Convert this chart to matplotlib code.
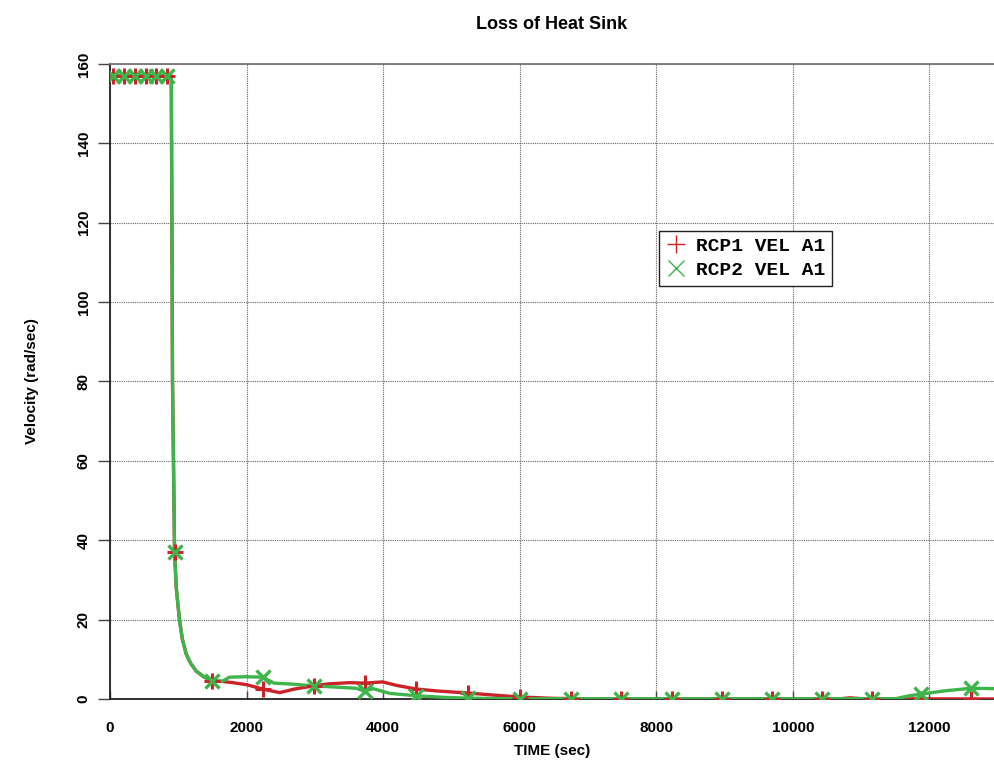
import matplotlib

matplotlib.use("Agg")
import matplotlib.pyplot as plt
from matplotlib.lines import Line2D

# curve samples (time in s, velocity in rad/s)
rcp1_time = [0, 897, 915, 945, 970, 1018, 1060, 1116, 1180, 1263, 1380, 1497, 1650, 1800,
             2000, 2234, 2483, 2700, 2981, 3200, 3500, 3730, 3993, 4200, 4487, 4800, 5240,
             5600, 6000, 6500, 7000, 10700, 10840, 11000, 12950]
rcp1_vel = [157, 157, 80, 37, 28, 19.7, 15, 11.3, 9, 7, 5.5, 4.6, 4.4, 4.1,
            3.6, 2.5, 1.6, 2.5, 3.3, 3.8, 4.1, 4.0, 4.3, 3.4, 2.5, 2.0, 1.5,
            1.0, 0.5, 0.15, 0.05, 0.05, 0.3, 0.05, 0.0]

rcp2_time = [0, 897, 915, 945, 970, 1018, 1060, 1116, 1180, 1263, 1380, 1497, 1650, 1750,
             2000, 2234, 2400, 2700, 2981, 3400, 3600, 3730, 3850, 4100, 4487, 4900, 5240,
             6000, 11500, 11700, 11876, 12200, 12608, 12950]
rcp2_vel = [157, 157, 80, 37, 28, 19.7, 15, 11.3, 9, 7, 5.5, 4.6, 4.5, 5.5,
            5.6, 5.5, 4.0, 3.7, 3.3, 2.9, 2.7, 2.0, 2.6, 1.4, 0.8, 0.4, 0.2,
            0.05, 0.05, 0.8, 1.2, 2.0, 2.7, 2.6]

# plot symbols
mark_time = [40, 200, 360, 520, 680, 830, 945, 1497, 2234, 2981, 3730, 4487, 5240,
             6000, 6745, 7480, 8226, 8960, 9693, 10425, 11152, 11876, 12608]
rcp1_mark = [157, 157, 157, 157, 157, 157, 37, 4.6, 2.5, 3.3, 4.0, 2.5, 1.5,
             0.6, 0.1, 0.05, 0.05, 0.05, 0.05, 0.05, 0.05, 0.05, 0.0]
rcp2_mark = [157, 157, 157, 157, 157, 157, 37, 4.6, 5.5, 3.3, 2.0, 0.8, 0.2,
             0.05, 0.05, 0.05, 0.05, 0.05, 0.05, 0.05, 0.05, 1.3, 2.7]

x_ticks = [0, 2000, 4000, 6000, 8000, 10000, 12000]
y_ticks = [0, 20, 40, 60, 80, 100, 120, 140, 160]

RED = "#cc2229"
GREEN = "#3db54a"
SANS = ["Liberation Sans Narrow", "Liberation Sans", "DejaVu Sans"]

plt.rcParams["font.family"] = SANS

fig = plt.figure(figsize=(9.94, 7.67), dpi=100)
ax = fig.add_axes([0.1107, 0.0887, 0.8893, 0.8279])

ax.plot(rcp1_time, rcp1_vel, color=RED, linewidth=2.4, zorder=3)
ax.plot(rcp2_time, rcp2_vel, color=GREEN, linewidth=2.4, zorder=4)
ax.plot(mark_time, rcp1_mark, linestyle="none", marker="+", color=RED,
        markersize=12, markeredgewidth=2.2, zorder=5)
ax.plot(mark_time, rcp2_mark, linestyle="none", marker="x", color=GREEN,
        markersize=10, markeredgewidth=2.4, zorder=6)

ax.set_xlim(0, 12945)
ax.set_ylim(0, 160)
ax.set_xticks(x_ticks)
ax.set_yticks(y_ticks)
ax.set_xticklabels([str(v) for v in x_ticks], fontsize=11, fontweight="bold")
ax.set_yticklabels([str(v) for v in y_ticks], fontsize=11, fontweight="bold",
                   rotation=90, va="center")
ax.tick_params(axis="x", direction="in", length=6, width=1, color="#444444", pad=16)
ax.tick_params(axis="y", direction="out", length=9, width=1, color="#444444", pad=5)
ax.grid(True, color="#666666", linestyle=(0, (1, 1)), linewidth=0.8, zorder=0)

for side in ("left", "bottom"):
    ax.spines[side].set_color("#222222")
    ax.spines[side].set_linewidth(1.3)
ax.spines["top"].set_color("#777777")
ax.spines["top"].set_linewidth(1.3)
ax.spines["right"].set_visible(False)

ax.set_title("Loss of Heat Sink", fontsize=13, fontweight="bold", pad=25)
ax.set_xlabel("TIME (sec)", fontsize=11, fontweight="bold", labelpad=6)
ax.set_ylabel("Velocity (rad/sec)", fontsize=11, fontweight="bold", labelpad=27)

handles = [
    Line2D([], [], linestyle="none", marker="+", color=RED, markersize=13, markeredgewidth=1),
    Line2D([], [], linestyle="none", marker="x", color=GREEN, markersize=11, markeredgewidth=1),
]
leg = ax.legend(handles, ["RCP1 VEL A1", "RCP2 VEL A1"], loc="upper left",
                bbox_to_anchor=(0.6105, 0.7525), fancybox=False, framealpha=1,
                edgecolor="#222222", handlelength=1.0, handletextpad=0.55,
                borderpad=0.35, labelspacing=0.3,
                prop={"family": ["Liberation Mono", "DejaVu Sans Mono"],
                      "weight": "bold", "size": 14})
leg.get_frame().set_linewidth(1.0)

fig.savefig("out.png", dpi=100)
